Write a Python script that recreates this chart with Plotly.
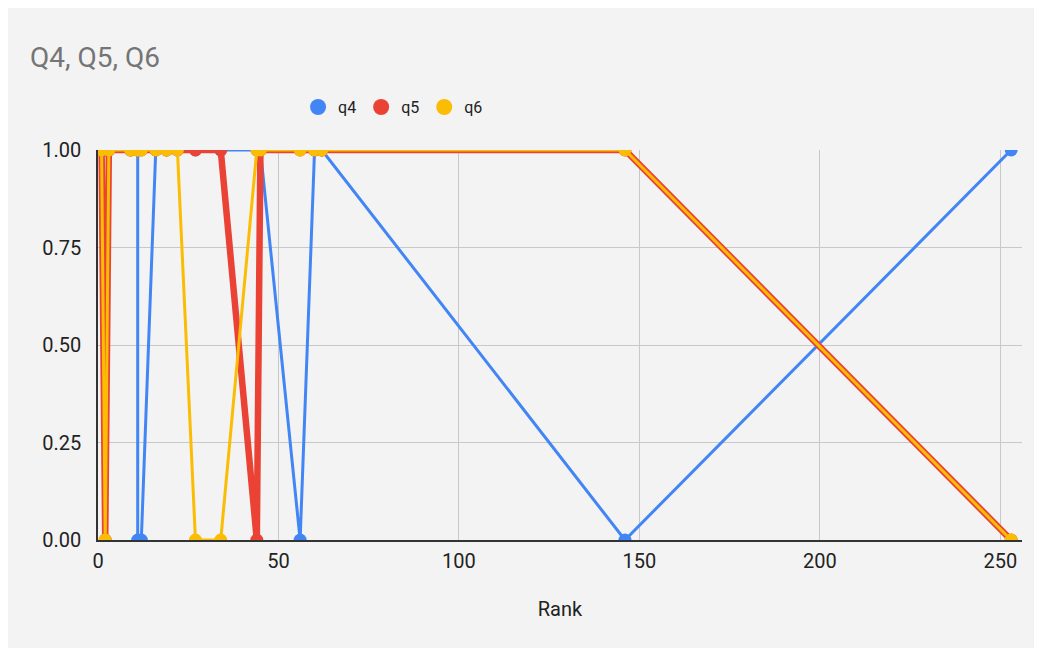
import plotly.graph_objects as go

rank = [1, 2, 3, 9, 11, 11, 12, 16, 19, 22, 27, 34, 44, 45, 56, 60, 62, 146, 253]
q4 = [1, 1, 1, 1, 1, 0, 0, 1, 1, 1, 1, 1, 1, 1, 0, 1, 1, 0, 1]
q5 = [1, 0, 1, 1, 1, 1, 1, 1, 1, 1, 1, 1, 0, 1, 1, 1, 1, 1, 0]
q6 = [1, 0, 1, 1, 1, 1, 1, 1, 1, 1, 0, 0, 1, 1, 1, 1, 1, 1, 0]

series = [("q4", q4, "#4285F4", 3), ("q5", q5, "#EA4335", 6.5), ("q6", q6, "#FBBC04", 3)]
y_ticks = [0, 0.25, 0.5, 0.75, 1]
y_labels = ["0.00", "0.25", "0.50", "0.75", "1.00"]
x_ticks = [0, 50, 100, 150, 200, 250]

FONT = "Roboto, Arial, sans-serif"
fig = go.Figure()
for name, vals, color, w in series:
    fig.add_trace(go.Scatter(x=rank, y=vals, mode="lines+markers", name=name,
                             line=dict(color=color, width=w),
                             marker=dict(color=color, size=13),
                             cliponaxis=True, showlegend=False))
for name, vals, color, w in series:
    fig.add_trace(go.Scatter(x=[None], y=[None], mode="markers", name=name,
                             marker=dict(color=color, size=17), showlegend=True))

fig.update_layout(
    width=1030, height=640, autosize=False,
    margin=dict(l=90, r=16, t=142, b=108),
    paper_bgcolor="#f3f3f3", plot_bgcolor="#f3f3f3",
    font=dict(family=FONT, size=20, color="#222222"),
    title=dict(text="Q4, Q5, Q6", x=22/1030, xanchor="left", y=1-49/640, yanchor="middle",
               font=dict(family=FONT, size=28, color="#757575")),
    legend=dict(orientation="h", x=0.2165, xanchor="left", y=1.110, yanchor="middle",
                font=dict(size=16, color="#222222"), bgcolor="rgba(0,0,0,0)"),
)
fig.update_xaxes(range=[0, 256], tickvals=x_ticks, showgrid=True, gridcolor="#c8c8c8",
                 gridwidth=1, showline=True, linecolor="#333333", linewidth=1.5,
                 zeroline=False, ticks="", ticklabelstandoff=2,
                 tickfont=dict(size=20, color="#222222"),
                 title=dict(text="Rank", standoff=30, font=dict(size=20, color="#222222")))
fig.update_yaxes(range=[0, 1], tickvals=y_ticks, ticktext=y_labels, showgrid=True,
                 gridcolor="#c8c8c8", gridwidth=1, showline=True, linecolor="#333333",
                 linewidth=1.5, zeroline=False, ticks="", ticklabelstandoff=11,
                 tickfont=dict(size=20, color="#222222"))
fig.write_html("out.html")
